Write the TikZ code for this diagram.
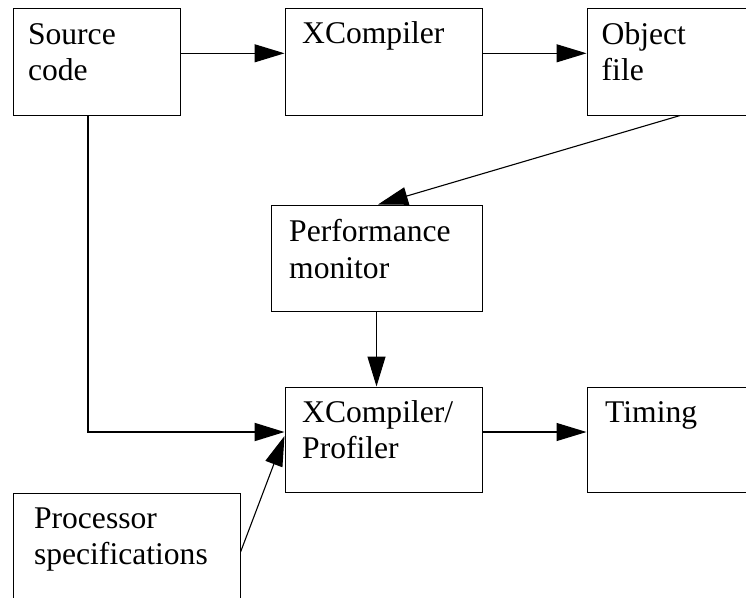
\documentclass[tikz,border=0pt]{standalone}
\usepackage{fontspec}
\setmainfont{Liberation Serif}
\usetikzlibrary{arrows.meta}

\tikzset{
  box/.style={draw, line width=1pt, rectangle, inner sep=0pt},
  label text/.style={anchor=base west, inner sep=0pt,
    font=\fontsize{31.6pt}{36.5pt}\selectfont},
  flow/.style={line width=1.1pt, -{Triangle[length=30pt,width=18pt]}},
  thick flow/.style={line width=2pt, -{Triangle[length=30pt,width=18pt]}},
}

\newcommand{\boxtext}[1]{\parbox[t]{8cm}{\raggedright #1}}

\begin{document}
\begin{tikzpicture}[x=1pt,y=-1pt]
  % canvas and clipping window
  \fill[white] (0,0) rectangle (746,597);
  \useasboundingbox (0,0) rectangle (746,597);
  \clip (0,0) rectangle (746,597);

  % blocks
  \node[box, minimum width=166.7pt, minimum height=106.7pt] (src)  at (96.7,61.7)  {};
  \node[box, minimum width=197pt,   minimum height=106.7pt] (xc)   at (383.5,61.7) {};
  \node[box, minimum width=186pt,   minimum height=106.7pt] (obj)  at (680,61.7)   {};
  \node[box, minimum width=211pt,   minimum height=106pt]   (perf) at (376.5,258)  {};
  \node[box, minimum width=197pt,   minimum height=105pt]   (prof) at (383.5,439.5){};
  \node[box, minimum width=186pt,   minimum height=105pt]   (tim)  at (680,439.5)  {};
  \node[box, minimum width=226.7pt, minimum height=118pt]   (proc) at (126.7,552)  {};

  % block captions
  \node[label text] (srct)  at ([xshift=15pt,yshift=-36.5pt]src.north west)  {\boxtext{Source\\code}};
  \node[label text] (xct)   at ([xshift=17.5pt,yshift=-36pt]xc.north west)  {\boxtext{XCompiler}};
  \node[label text] (objt)  at ([xshift=15pt,yshift=-36.5pt]obj.north west)  {\boxtext{Object\\file}};
  \node[label text] (perft) at ([xshift=18.5pt,yshift=-37pt]perf.north west) {\boxtext{Performance\\monitor}};
  \node[label text] (proft) at ([xshift=17.5pt,yshift=-35.5pt]prof.north west) {\boxtext{XCompiler/\\Profiler}};
  \node[label text] (timt)  at ([xshift=18.5pt,yshift=-35.5pt]tim.north west)  {\boxtext{Timing}};
  \node[label text] (proct) at ([xshift=21pt,yshift=-35.5pt]proc.north west) {\boxtext{Processor\\specifications}};

  % connectors
  \draw[flow] ([yshift=8.4pt]src.east) -- ([yshift=8.4pt]xc.west);
  \draw[flow] ([yshift=8.4pt]xc.east) -- ([yshift=8.4pt]obj.west);
  \draw[flow] (obj.south) -- ([xshift=1.5pt]perf.north);
  \draw[flow] (perf.south) -- (perf.south |- prof.north);
  \draw[thick flow] ([xshift=-8.7pt]src.south) |- ([yshift=7.5pt]prof.west);
  \draw[flow] (proc.east) -- ([yshift=3.5pt]prof.west);
  \draw[flow] ([yshift=7.5pt]prof.east) -- ([yshift=7.5pt]tim.west);
\end{tikzpicture}
\end{document}
